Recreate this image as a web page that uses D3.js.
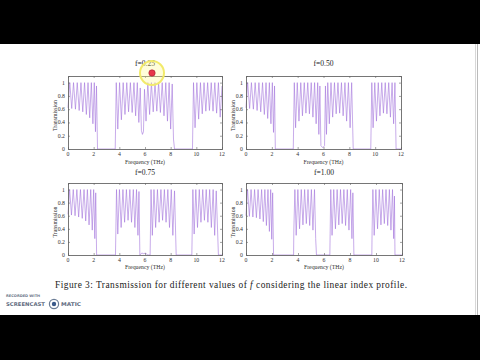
<!DOCTYPE html>
<html><head><meta charset="utf-8">
<script src="https://cdn.jsdelivr.net/npm/d3@7"></script>
<style>html,body{margin:0;padding:0;background:#fff;}svg{display:block;}</style>
</head><body>
<svg id="c" width="480" height="360"></svg>
<script>
// ---------- DATA ----------
const titles = ["f=0.25", "f=0.50", "f=0.75", "f=1.00"];
const xTicks = [0, 2, 4, 6, 8, 10, 12];
const yTicks = [0, 0.2, 0.4, 0.6, 0.8, 1];
const xLabel = "Frequency (THz)";
const yLabel = "Transmission";

// [frequency (THz), transmission]
const spec025 = [
 [0,0.62],[0.14,1],[0.29,0.61],[0.43,1],[0.58,0.60],[0.72,1],[0.87,0.58],[1.01,1],[1.15,0.56],[1.29,1],
 [1.43,0.52],[1.56,1],[1.69,0.47],[1.82,1],[1.94,0.38],[2.05,1],[2.14,0.26],[2.22,0.95],[2.30,0],
 [3.68,0],[3.76,1],[3.88,0.30],[4.02,1],[4.16,0.44],[4.30,1],[4.44,0.52],[4.58,1],[4.72,0.56],[4.86,1],
 [5.00,0.55],[5.14,1],[5.27,0.50],[5.40,1],[5.52,0.40],[5.63,0.92],[5.72,0.28],[5.80,0.22],[5.88,0.26],
 [5.96,0.90],[6.08,0.42],[6.22,1],[6.36,0.52],[6.50,1],[6.64,0.56],[6.78,1],[6.92,0.57],[7.06,1],
 [7.20,0.55],[7.34,1],[7.48,0.50],[7.62,1],[7.75,0.42],[7.88,1],[8.00,0.30],[8.12,0.98],[8.22,0.15],[8.30,0],
 [9.70,0],[9.78,1],[9.90,0.32],[10.04,1],[10.18,0.45],[10.32,1],[10.46,0.53],[10.60,1],[10.74,0.57],
 [10.88,1],[11.02,0.58],[11.16,1],[11.30,0.57],[11.44,1],[11.58,0.54],[11.72,1],[11.86,0.48],[12.0,0.95]
];
const spec050 = [
 [0,0.62],[0.13,1],[0.28,0.61],[0.42,1],[0.57,0.60],[0.71,1],[0.86,0.58],[1.00,1],[1.14,0.56],[1.28,1],
 [1.42,0.52],[1.55,1],[1.68,0.46],[1.81,1],[1.93,0.38],[2.04,1],[2.13,0.25],[2.21,0.95],[2.27,0],
 [3.66,0],[3.74,1],[3.84,0.32],[3.97,1],[4.10,0.42],[4.24,1],[4.37,0.50],[4.51,1],[4.64,0.54],[4.78,1],
 [4.91,0.53],[5.05,1],[5.18,0.48],[5.31,1],[5.43,0.38],[5.55,1],[5.64,0.22],[5.72,0.95],[5.80,0.05],
 [5.95,0.02],[6.08,0.05],[6.15,0.95],[6.23,0.22],[6.33,1],[6.45,0.38],[6.58,1],[6.71,0.48],[6.85,1],
 [6.98,0.53],[7.12,1],[7.25,0.54],[7.39,1],[7.52,0.50],[7.66,1],[7.79,0.42],[7.93,1],[8.06,0.32],[8.18,1],[8.30,0],
 [9.66,0],[9.74,1],[9.84,0.32],[9.97,1],[10.10,0.42],[10.24,1],[10.37,0.50],[10.51,1],[10.64,0.54],
 [10.78,1],[10.91,0.53],[11.05,1],[11.18,0.48],[11.31,1],[11.43,0.38],[11.53,1],[11.62,0],[12,0]
];
const spec075 = [
 [0,0.62],[0.13,1],[0.27,0.61],[0.41,1],[0.55,0.60],[0.69,1],[0.83,0.58],[0.97,1],[1.11,0.56],[1.25,1],
 [1.38,0.52],[1.51,1],[1.64,0.46],[1.77,1],[1.89,0.38],[2.00,1],[2.09,0.25],[2.16,0.95],[2.23,0],
 [3.70,0],[3.78,1],[3.88,0.32],[4.01,1],[4.14,0.42],[4.28,1],[4.41,0.50],[4.55,1],[4.68,0.53],[4.82,1],
 [4.95,0.50],[5.09,1],[5.21,0.42],[5.34,1],[5.45,0.30],[5.53,0.97],[5.60,0],
 [5.75,0.03],[5.90,0.02],[6.05,0.03],[6.20,0],
 [6.40,0],[6.47,1],[6.57,0.30],[6.70,1],[6.83,0.42],[6.97,1],[7.10,0.50],[7.24,1],[7.37,0.53],[7.51,1],
 [7.64,0.50],[7.78,1],[7.91,0.42],[8.05,1],[8.17,0.30],[8.30,0.98],[8.43,0],
 [9.65,0],[9.73,1],[9.83,0.32],[9.96,1],[10.09,0.42],[10.23,1],[10.36,0.50],[10.50,1],[10.63,0.53],
 [10.77,1],[10.90,0.50],[11.04,1],[11.17,0.42],[11.31,1],[11.43,0.30],[11.55,0.98],[11.72,0],[12,0]
];
const spec100 = [
 [0,0.60],[0.12,1],[0.26,0.59],[0.39,1],[0.53,0.58],[0.66,1],[0.80,0.57],[0.93,1],[1.07,0.55],[1.20,1],
 [1.33,0.51],[1.45,1],[1.57,0.45],[1.69,1],[1.80,0.36],[1.90,1],[1.98,0.24],[2.05,0.95],[2.12,0],
 [3.66,0],[3.68,0.38],[3.76,1],[3.86,0.30],[3.99,1],[4.12,0.40],[4.25,1],[4.38,0.46],[4.51,1],[4.64,0.48],
 [4.77,1],[4.90,0.45],[5.03,1],[5.15,0.38],[5.27,1],[5.36,0.25],[5.42,0],
 [6.45,0],[6.52,1],[6.62,0.30],[6.75,1],[6.88,0.40],[7.01,1],[7.14,0.46],[7.27,1],[7.40,0.48],[7.53,1],
 [7.66,0.45],[7.79,1],[7.92,0.38],[8.05,1],[8.15,0.25],[8.22,0.95],[8.30,0],
 [9.68,0],[9.70,0.38],[9.76,1],[9.86,0.30],[9.99,1],[10.12,0.40],[10.25,1],[10.38,0.46],[10.51,1],
 [10.64,0.48],[10.77,1],[10.90,0.45],[11.03,1],[11.15,0.38],[11.27,1],[11.36,0.25],[11.42,0.9],[11.46,0],[12,0]
];
const series = [spec025, spec050, spec075, spec100];
const captionPre = "Figure 3: Transmission for different values of ";
const captionVar = "f";
const captionPost = " considering the linear index profile.";

// ---------- LAYOUT ----------
const svg = d3.select("#c");
svg.append("rect").attr("x",0).attr("y",0).attr("width",480).attr("height",360).attr("fill","#fff");

const boxes = [
  {x0:68, x1:222, yb:149, yt:76,  titleY:66,  tickY:156, labY:164},
  {x0:246,x1:401, yb:149, yt:76,  titleY:66,  tickY:156, labY:164},
  {x0:68, x1:222, yb:255, yt:183, titleY:175, tickY:262, labY:269},
  {x0:246,x1:402, yb:255, yt:183, titleY:175, tickY:262, labY:269}
];
const serif = "'Liberation Serif','DejaVu Serif',serif";
const lineColor = "#a273dc";

boxes.forEach((b, i) => {
  const x = d3.scaleLinear().domain([0, 12]).range([b.x0, b.x1]);
  const y = d3.scaleLinear().domain([0, 1.1]).range([b.yb, b.yt]);
  const g = svg.append("g");

  // data line
  const line = d3.line().x(d => x(d[0])).y(d => y(d[1]));
  g.append("path").datum(series[i]).attr("d", line)
    .attr("fill","none").attr("stroke", lineColor).attr("stroke-width",0.6)
    .attr("stroke-linejoin","round");

  // axes (MATLAB style box, inward ticks) drawn above the line
  g.append("g").attr("transform",`translate(0,${b.yb})`)
    .call(d3.axisBottom(x).tickValues(xTicks).tickSize(-2).tickFormat(""));
  g.append("g").attr("transform",`translate(0,${b.yt})`)
    .call(d3.axisTop(x).tickValues(xTicks).tickSize(-2).tickFormat(""));
  g.append("g").attr("transform",`translate(${b.x0},0)`)
    .call(d3.axisLeft(y).tickValues(yTicks).tickSize(-2).tickFormat(""));
  g.append("g").attr("transform",`translate(${b.x1},0)`)
    .call(d3.axisRight(y).tickValues(yTicks).tickSize(-2).tickFormat(""));
  g.selectAll(".domain").attr("stroke","#666").attr("stroke-width",0.9);
  g.selectAll(".tick line").attr("stroke","#666").attr("stroke-width",0.6);

  // tick labels
  g.selectAll(".xt").data(xTicks).enter().append("text")
    .attr("x", d => x(d)).attr("y", b.tickY).attr("text-anchor","middle")
    .attr("font-family", serif).attr("font-size",5.8).attr("fill","#333").text(d => d);
  g.selectAll(".yt").data(yTicks).enter().append("text")
    .attr("x", b.x0 - 3).attr("y", d => y(d) + 2).attr("text-anchor","end")
    .attr("font-family", serif).attr("font-size",5.8).attr("fill","#333").text(d => d);

  // axis labels
  g.append("text").attr("x",(b.x0+b.x1)/2).attr("y",b.labY).attr("text-anchor","middle")
    .attr("font-family",serif).attr("font-size",5.8).attr("fill","#333").text(xLabel);
  g.append("text").attr("transform",`translate(${b.x0-11},${(b.yb+b.yt)/2+3}) rotate(-90)`)
    .attr("text-anchor","middle").attr("font-family",serif).attr("font-size",5.8).attr("fill","#333").text(yLabel);

  // title
  g.append("text").attr("x",(b.x0+b.x1)/2).attr("y",b.titleY).attr("text-anchor","middle")
    .attr("font-family",serif).attr("font-size",7.6).attr("fill","#222").text(titles[i]);
});

// caption
const cap = svg.append("text").attr("x",55).attr("y",288).attr("font-family",serif)
  .attr("font-size",9.4).attr("fill","#222").attr("textLength",352).attr("lengthAdjust","spacing");
cap.append("tspan").text(captionPre);
cap.append("tspan").attr("font-style","italic").text(captionVar);
cap.append("tspan").text(captionPost);

// cursor highlight (screen recording)
svg.append("circle").attr("cx",152).attr("cy",73).attr("r",12)
  .attr("fill","rgba(255,250,150,0.35)").attr("stroke","#f2ea6a").attr("stroke-width",2);
svg.append("circle").attr("cx",152).attr("cy",73).attr("r",3.2)
  .attr("fill","#e8354a").attr("stroke","#a02030").attr("stroke-width",0.6);

// screen-recorder chrome
svg.append("rect").attr("x",0).attr("y",0).attr("width",480).attr("height",44).attr("fill","#000");
svg.append("rect").attr("x",0).attr("y",315).attr("width",480).attr("height",45).attr("fill","#000");
svg.append("rect").attr("x",475).attr("y",44).attr("width",1).attr("height",271).attr("fill","#d8d8d8");
svg.append("rect").attr("x",477).attr("y",44).attr("width",1).attr("height",271).attr("fill","#bbb");

// watermark
const wm = "'DejaVu Sans',sans-serif";
svg.append("text").attr("x",6).attr("y",297).attr("font-family",wm)
  .attr("font-size",3.6).attr("fill","#6b7588").attr("font-weight","bold").text("RECORDED WITH");
svg.append("text").attr("x",6).attr("y",306).attr("font-family",wm)
  .attr("font-size",5.2).attr("fill","#5f6b80").attr("font-weight","bold")
  .attr("textLength",39).attr("lengthAdjust","spacingAndGlyphs").text("SCREENCAST");
svg.append("circle").attr("cx",54).attr("cy",304).attr("r",4.6).attr("fill","#fff").attr("stroke","#6b7d96").attr("stroke-width",1.2);
svg.append("circle").attr("cx",54).attr("cy",304).attr("r",2.2).attr("fill","#3b5a8a");
svg.append("text").attr("x",61).attr("y",306).attr("font-family",wm)
  .attr("font-size",5.2).attr("fill","#5f6b80").attr("font-weight","bold")
  .attr("textLength",20).attr("lengthAdjust","spacingAndGlyphs").text("MATIC");
</script>
</body></html>
